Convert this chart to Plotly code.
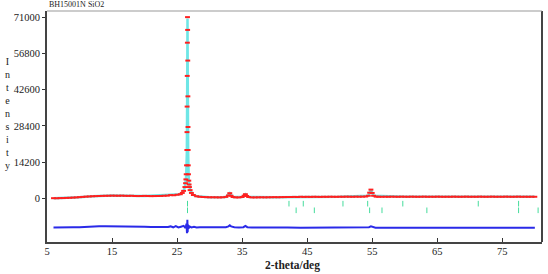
import plotly.graph_objects as go

# ---- observed profile (2-theta, counts) ----
obs_x = [6.0, 6.5, 7.0, 7.5, 8.0, 8.5, 9.0, 9.5, 10.0, 10.5, 11.0, 11.5, 12.0, 12.5, 13.0, 13.5,
         14.0, 14.5, 15.0, 15.5, 16.0, 16.5, 17.0, 17.5, 18.0, 18.5, 19.0, 19.5, 20.0, 20.5, 21.0,
         21.5, 22.0, 22.5, 23.0, 23.5, 24.0, 24.5, 25.0, 25.5,
         25.8, 26.0, 26.2, 26.3, 26.35, 26.4, 26.45, 26.5, 26.52, 26.54, 26.56, 26.58, 26.6, 26.62,
         26.64, 26.66, 26.68, 26.7, 26.72, 26.75, 26.8, 26.85, 26.9, 27.0, 27.2, 27.5,
         28.0, 28.5, 29.0, 29.5, 30.0, 30.5, 31.0, 31.5, 32.0, 32.5,
         32.9, 33.1, 33.3, 33.6, 34.0, 34.5, 35.0, 35.3, 35.5, 35.7, 36.0, 36.5,
         37.0, 37.5, 38.0, 38.5, 39.0, 39.5, 40.0, 40.5, 41.0, 41.5, 42.0, 42.5, 43.0, 43.5, 44.0,
         44.5, 45.0, 45.5, 46.0, 46.5, 47.0, 47.5, 48.0, 48.5, 49.0, 49.5, 50.0, 50.5, 51.0, 51.5,
         52.0, 52.5, 53.0, 53.5, 54.0,
         54.4, 54.6, 54.8, 55.0, 55.2, 55.6, 56.0,
         56.5, 57.0, 57.5, 58.0, 58.5, 59.0, 59.5, 60.0, 60.5, 61.0, 61.5, 62.0, 62.5, 63.0, 63.5,
         64.0, 64.5, 65.0, 65.5, 66.0, 66.5, 67.0, 67.5, 68.0, 68.5, 69.0, 69.5, 70.0, 70.5, 71.0,
         71.5, 72.0, 72.5, 73.0, 73.5, 74.0, 74.5, 75.0, 75.5, 76.0, 76.5, 77.0, 77.5, 78.0, 78.5,
         79.0, 79.5, 80.0]
obs_y = [150, 120, 180, 200, 260, 300, 380, 450, 560, 650, 760, 820, 900, 950, 1000, 1050,
         1080, 1100, 1150, 1120, 1100, 1150, 1080, 1050, 1100, 1000, 980, 1000, 1050, 1000, 950,
         980, 1000, 1020, 1100, 1150, 1350, 1300, 1500, 1700,
         2200, 3000, 4500, 6000, 7500, 9500, 13000, 19000, 26000, 36000, 48000, 61000, 71000, 66000,
         54000, 40000, 28000, 19000, 13000, 9500, 7000, 5500, 4500, 3300, 2200, 1400,
         900, 700, 600, 550, 500, 500, 480, 450, 500, 650,
         1200, 2100, 1100, 600, 450, 450, 600, 1100, 1700, 1000, 600, 450,
         450, 480, 500, 470, 500, 520, 550, 520, 560, 580, 600, 620, 650, 600, 700,
         650, 680, 650, 700, 680, 650, 700, 680, 720, 700, 680, 720, 700, 750, 720,
         700, 750, 720, 750, 800,
         1100, 2300, 3500, 2200, 1100, 750, 700,
         700, 720, 700, 750, 720, 700, 750, 720, 700, 750, 720, 700, 720, 750, 700,
         720, 700, 750, 720, 700, 720, 700, 750, 720, 700, 720, 750, 700, 720, 700,
         750, 720, 700, 720, 750, 700, 720, 700, 750, 720, 700, 720, 750, 700, 720,
         700, 720, 700]

# ---- calculated profile ----
calc_x = [6.0, 8.0, 10.0, 12.0, 15.0, 20.0, 24.0, 25.0, 25.5, 26.0, 26.2, 26.4, 26.5, 26.55,
          26.6, 26.65, 26.7, 26.8, 27.0, 27.5, 28.0, 30.0, 32.5, 33.1, 33.6, 35.0, 35.5, 36.0,
          40.0, 50.0, 54.4, 54.8, 55.2, 60.0, 70.0, 80.0]
calc_y = [150, 260, 560, 900, 1150, 1050, 1350, 1500, 1700, 3000, 4500, 9000, 18000, 40000,
          70500, 42000, 18000, 7000, 3300, 1400, 900, 500, 650, 2100, 600, 600, 1700, 600,
          550, 680, 1100, 3500, 1100, 720, 700, 700]

# ---- difference curve ----
diff_x = [6, 7, 8, 9, 10, 11, 12, 13, 14, 15, 16, 17, 18, 19, 20, 21, 22, 23, 23.6, 24.0,
          24.4, 24.8, 25.2, 25.6, 26.0, 26.3, 26.45, 26.52, 26.58, 26.62, 26.68, 26.75, 26.9,
          27.2, 27.6, 28.0, 28.5, 29.5, 30.5, 31.5, 32.5, 32.9, 33.1, 33.3, 33.8, 34.5, 35.2,
          35.5, 35.8, 36.5, 38, 40, 42, 44, 46, 48, 50, 52, 54, 54.5, 54.8, 55.1, 55.5, 57, 60,
          62, 65, 68, 70, 72, 75, 78, 80]
diff_y = [-11300, -11350, -11300, -11250, -11200, -11000, -10900, -10850, -10800, -10800,
          -10850, -10900, -10950, -11000, -11050, -11100, -11150, -11200, -11150, -10900,
          -11250, -10800, -11300, -11000, -10700, -11500, -9800, -13600, -8300, -13200,
          -10200, -11800, -10900, -11300, -11050, -11300, -11200, -11250, -11300, -11250,
          -11200, -10900, -10500, -10900, -11250, -11300, -11200, -10700, -11200, -11350,
          -11300, -11350, -11300, -11400, -11350, -11400, -11350, -11400, -11350, -11200,
          -10900, -11250, -11400, -11400, -11350, -11450, -11400, -11400, -11350, -11400,
          -11400, -11450, -11400]

# ---- reflection markers (two phases) ----
phase1_pos = [26.6, 42.2, 44.4, 50.5, 54.3, 59.7, 71.3, 77.5]
phase2_pos = [26.6, 43.3, 46.1, 54.6, 56.5, 63.4, 77.5, 80.5]
phase1_level = -2000
phase2_level = -4600

y_ticks = [0, 14200, 28400, 42600, 56800, 71000]
x_ticks = [5, 15, 25, 35, 45, 55, 65, 75]

assert len(obs_x) == len(obs_y)
assert len(calc_x) == len(calc_y)
assert len(diff_x) == len(diff_y)

FONT = "Liberation Serif"

fig = go.Figure()
fig.add_trace(go.Scatter(x=calc_x, y=calc_y, mode="lines",
                         line=dict(color="#6ee6e6", width=2.5)))
fig.add_trace(go.Scatter(x=obs_x, y=obs_y, mode="markers",
                         marker=dict(symbol="line-ew", size=3.5,
                                     line=dict(color="#ff2020", width=2))))
fig.add_trace(go.Scatter(x=diff_x, y=diff_y, mode="lines",
                         line=dict(color="#2a2ae8", width=2)))
fig.add_trace(go.Scatter(x=phase1_pos, y=[phase1_level] * len(phase1_pos), mode="markers",
                         marker=dict(symbol="line-ns", size=4,
                                     line=dict(color="#45dc9c", width=1))))
fig.add_trace(go.Scatter(x=phase2_pos, y=[phase2_level] * len(phase2_pos), mode="markers",
                         marker=dict(symbol="line-ns", size=4,
                                     line=dict(color="#45dc9c", width=1))))

fig.update_layout(
    width=548, height=274,
    margin=dict(l=47, r=6, t=11, b=32),
    plot_bgcolor="white", paper_bgcolor="white",
    showlegend=False,
    font=dict(family=FONT, color="#222"),
    xaxis=dict(range=[5, 81.1], tickvals=x_ticks, ticktext=[str(v) for v in x_ticks],
               ticks="inside", ticklen=4, tickcolor="#333", tickwidth=1,
               showline=True, linecolor="#444", linewidth=2, mirror=False,
               showgrid=False, zeroline=False, ticklabelstandoff=-2,
               tickfont=dict(family=FONT, size=10.5, color="#222")),
    yaxis=dict(range=[-17000, 73400], tickvals=y_ticks, ticktext=[str(v) for v in y_ticks],
               ticks="outside", ticklen=3, tickcolor="#333", tickwidth=1,
               showline=True, linecolor="#444", linewidth=2, mirror=False,
               showgrid=False, zeroline=False,
               tickfont=dict(family=FONT, size=10.5, color="#222")),
    shapes=[
        dict(type="line", xref="paper", yref="paper", x0=1, x1=1, y0=0, y1=1,
             line=dict(color="#444", width=2)),
        dict(type="line", xref="paper", yref="paper", x0=0, x1=1, y0=1, y1=1,
             line=dict(color="#999", width=1)),
    ],
    annotations=[
        dict(text="BH15001N SiO2", xref="paper", yref="paper", x=0, y=1,
             xanchor="left", yanchor="bottom", yshift=0, showarrow=False,
             font=dict(family=FONT, size=8, color="#222")),
        dict(text="I<br>n<br>t<br>e<br>n<br>s<br>i<br>t<br>y", xref="paper", yref="paper",
             x=-0.079, y=0.556, xanchor="center", yanchor="middle", showarrow=False,
             font=dict(family=FONT, size=10, color="#222")),
        dict(text="<b>2-theta/deg</b>", xref="paper", yref="paper", x=0.495, y=0,
             xanchor="center", yanchor="top", yshift=-15, showarrow=False,
             font=dict(family=FONT, size=11.5, color="#222")),
    ],
)

fig.write_html("out.html")
